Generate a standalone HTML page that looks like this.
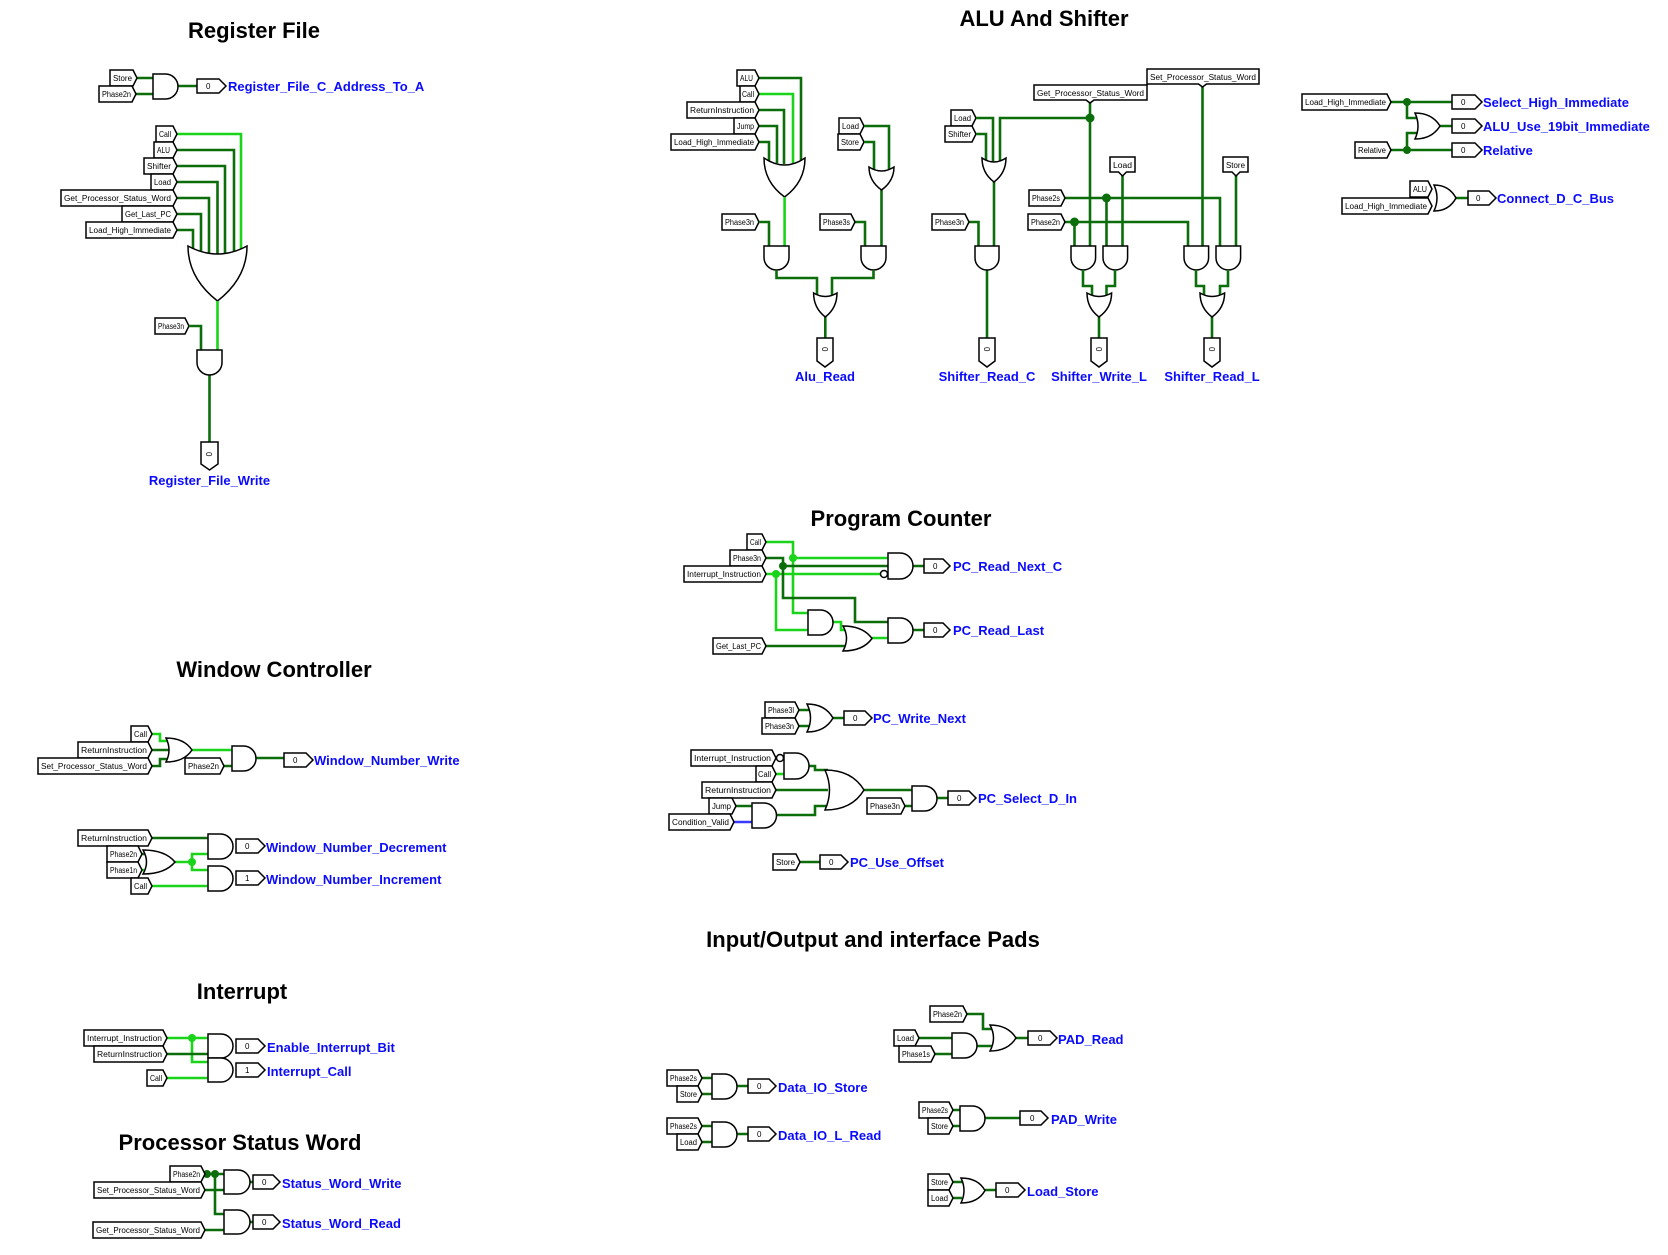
<!DOCTYPE html>
<html><head><meta charset="utf-8"><style>
html,body{margin:0;padding:0;background:#fff;}
svg{display:block}
.w{stroke:#0b6e0b;stroke-width:2.6;fill:none}
.b{stroke:#19d419;stroke-width:2.6;fill:none}
.u{stroke:#3a3aff;stroke-width:2.6;fill:none}
.g{fill:#fff;stroke:#000;stroke-width:1.5}
.tg{fill:#fff;stroke:#000;stroke-width:1.5}
.tt{font-family:"Liberation Sans",sans-serif;font-size:8px;fill:#000}
.pt{font-family:"Liberation Sans",sans-serif;font-size:8px;fill:#000}
.lb{font-family:"Liberation Sans",sans-serif;font-size:13px;font-weight:bold;fill:#0a0aff}
.ti{font-family:"Liberation Sans",sans-serif;font-size:22px;font-weight:bold;fill:#000}
.d{fill:#0b6e0b}.db{fill:#19d419}
</style></head><body>
<svg width="1668" height="1255" viewBox="0 0 1668 1255" xmlns="http://www.w3.org/2000/svg">

<!-- ================= REGISTER FILE ================= -->
<text x="254" y="38" class="ti" text-anchor="middle">Register File</text>
<path class="w" d="M137 78H153M136 94H153M178 86H197"/>
<polygon class="tg" points="110,70 133,70 137,78 133,86 110,86"/><text class="tt" x="113" y="81" textLength="19" lengthAdjust="spacingAndGlyphs">Store</text>
<polygon class="tg" points="99,86 132,86 136,94 132,102 99,102"/><text class="tt" x="102" y="97" textLength="29" lengthAdjust="spacingAndGlyphs">Phase2n</text>
<path class="g" d="M153 74h12.5a12.5 12.5 0 0 1 0 25h-12.5Z"/>
<polygon class="g" points="197,79 219,79 226,86 219,93 197,93"/><text class="pt" x="206" y="89">0</text>
<text class="lb" x="228" y="91">Register_File_C_Address_To_A</text>

<path class="b" d="M177 134H241V250"/>
<path class="w" d="M177 150H234V252M177 166H225V253M177 182H217.5V254M177 198H209V253M177 214H201V252M177 230H193V250"/>
<polygon class="tg" points="156,126 173,126 177,134 173,142 156,142"/><text class="tt" x="159" y="137" textLength="12" lengthAdjust="spacingAndGlyphs">Call</text>
<polygon class="tg" points="154,142 173,142 177,150 173,158 154,158"/><text class="tt" x="157" y="153" textLength="13" lengthAdjust="spacingAndGlyphs">ALU</text>
<polygon class="tg" points="144,158 173,158 177,166 173,174 144,174"/><text class="tt" x="147" y="169" textLength="24" lengthAdjust="spacingAndGlyphs">Shifter</text>
<polygon class="tg" points="151,174 173,174 177,182 173,190 151,190"/><text class="tt" x="154" y="185" textLength="17" lengthAdjust="spacingAndGlyphs">Load</text>
<polygon class="tg" points="61,190 173,190 177,198 173,206 61,206"/><text class="tt" x="64" y="201" textLength="107" lengthAdjust="spacingAndGlyphs">Get_Processor_Status_Word</text>
<polygon class="tg" points="122,206 173,206 177,214 173,222 122,222"/><text class="tt" x="125" y="217" textLength="46" lengthAdjust="spacingAndGlyphs">Get_Last_PC</text>
<polygon class="tg" points="86,222 173,222 177,230 173,238 86,238"/><text class="tt" x="89" y="233" textLength="82" lengthAdjust="spacingAndGlyphs">Load_High_Immediate</text>
<path class="g" d="M188 246Q217.5 262 247 246Q247 278 217.5 301Q188 278 188 246Z"/>
<path class="b" d="M217.5 301V350"/>
<polygon class="tg" points="155,318 185,318 189,326 185,334 155,334"/><text class="tt" x="158" y="329" textLength="26" lengthAdjust="spacingAndGlyphs">Phase3n</text>
<path class="w" d="M189 326H201V350M209.5 375V442"/>
<path class="g" d="M197 350h25v12.5a12.5 12.5 0 0 1 -25 0Z"/>
<polygon class="g" points="201,442 218,442 218,464 209.5,470 201,464"/><text class="pt" transform="translate(206,452) rotate(90)">0</text>
<text class="lb" x="209.5" y="485" text-anchor="middle">Register_File_Write</text>

<!-- ================= ALU AND SHIFTER ================= -->
<text x="1044" y="26" class="ti" text-anchor="middle">ALU And Shifter</text>
<path class="w" d="M759 78H801V162M759 110H784V164M759 126H777V163M759 142H769V162"/>
<path class="b" d="M759 94H793V163"/>
<polygon class="tg" points="737,70 755,70 759,78 755,86 737,86"/><text class="tt" x="740" y="81" textLength="13" lengthAdjust="spacingAndGlyphs">ALU</text>
<polygon class="tg" points="740,86 755,86 759,94 755,102 740,102"/><text class="tt" x="742" y="97" textLength="12" lengthAdjust="spacingAndGlyphs">Call</text>
<polygon class="tg" points="687,102 755,102 759,110 755,118 687,118"/><text class="tt" x="690" y="113" textLength="64" lengthAdjust="spacingAndGlyphs">ReturnInstruction</text>
<polygon class="tg" points="734,118 755,118 759,126 755,134 734,134"/><text class="tt" x="737" y="129" textLength="17" lengthAdjust="spacingAndGlyphs">Jump</text>
<polygon class="tg" points="671,134 755,134 759,142 755,150 671,150"/><text class="tt" x="674" y="145" textLength="80" lengthAdjust="spacingAndGlyphs">Load_High_Immediate</text>
<path class="g" d="M764 158Q784.6 172 805 158Q805 182 784.6 197Q764 182 764 158Z"/>
<path class="b" d="M784.6 197V246"/>
<polygon class="tg" points="722,214 755,214 759,222 755,230 722,230"/><text class="tt" x="725" y="225" textLength="29" lengthAdjust="spacingAndGlyphs">Phase3n</text>
<path class="w" d="M759 222H769V246"/>
<path class="g" d="M764 246h25v11.5a12.5 12.5 0 0 1 -25 0Z"/>
<polygon class="tg" points="839,118 860,118 864,126 860,134 839,134"/><text class="tt" x="842" y="129" textLength="17" lengthAdjust="spacingAndGlyphs">Load</text>
<polygon class="tg" points="838,134 860,134 864,142 860,150 838,150"/><text class="tt" x="841" y="145" textLength="18" lengthAdjust="spacingAndGlyphs">Store</text>
<path class="w" d="M864 126H889V170M864 142H874V170M881.5 190V246M855 222H865V246"/>
<path class="g" d="M869 167Q881.5 175 894 167Q894 181 881.5 190Q869 181 869 167Z"/>
<polygon class="tg" points="820,214 851,214 855,222 851,230 820,230"/><text class="tt" x="823" y="225" textLength="27" lengthAdjust="spacingAndGlyphs">Phase3s</text>
<path class="g" d="M861 246h25v11.5a12.5 12.5 0 0 1 -25 0Z"/>
<path class="w" d="M776.5 270V278H817V297M873.5 270V278H832V297M825.3 317V338"/>
<path class="g" d="M813.6 293Q825.3 300 837 293Q837 308 825.3 317Q813.6 308 813.6 293Z"/>
<polygon class="g" points="817,338 833,338 833,361 825,367 817,361"/><text class="pt" transform="translate(822,347) rotate(90)">0</text>
<text class="lb" x="825" y="381" text-anchor="middle">Alu_Read</text>

<polygon class="tg" points="951,110 972,110 976,118 972,126 951,126"/><text class="tt" x="954" y="121" textLength="17" lengthAdjust="spacingAndGlyphs">Load</text>
<polygon class="tg" points="945,126 972,126 976,134 972,142 945,142"/><text class="tt" x="948" y="137" textLength="23" lengthAdjust="spacingAndGlyphs">Shifter</text>
<path class="w" d="M976 118H993V164M976 134H986V163M1090 118H1000V163M994 182V246M969 222H978.5V246M987 270V338"/>
<path class="g" d="M982 158Q994 166 1006 158Q1006 173 994 182Q982 173 982 158Z"/>
<polygon class="tg" points="932,214 965,214 969,222 965,230 932,230"/><text class="tt" x="935" y="225" textLength="29" lengthAdjust="spacingAndGlyphs">Phase3n</text>
<path class="g" d="M975 246h24v12a12 12 0 0 1 -24 0Z"/>
<polygon class="g" points="979,338 995,338 995,361 987,367 979,361"/><text class="pt" transform="translate(984,347) rotate(90)">0</text>
<text class="lb" x="987" y="381" text-anchor="middle">Shifter_Read_C</text>

<path class="w" d="M1090 101V246M1202.5 86V246M1122.5 175V246M1236 175V246M1065 198H1220V246M1106.5 198V246M1065 222H1188V246M1074.5 222V246"/>
<polygon class="tg" points="1034,85 1147,85 1147,100 1094,100 1090,103 1086,100 1034,100"/><text class="tt" x="1037" y="96" textLength="107" lengthAdjust="spacingAndGlyphs">Get_Processor_Status_Word</text>
<polygon class="tg" points="1147,69 1259,69 1259,84 1206.5,84 1202.5,87 1198.5,84 1147,84"/><text class="tt" x="1150" y="80" textLength="106" lengthAdjust="spacingAndGlyphs">Set_Processor_Status_Word</text>
<polygon class="tg" points="1110,157 1135,157 1135,172 1126.5,172 1122.5,176 1118.5,172 1110,172"/><text class="tt" x="1113" y="168" textLength="19" lengthAdjust="spacingAndGlyphs">Load</text>
<polygon class="tg" points="1223,157 1248,157 1248,172 1240,172 1236,176 1232,172 1223,172"/><text class="tt" x="1226" y="168" textLength="19" lengthAdjust="spacingAndGlyphs">Store</text>
<polygon class="tg" points="1029,190 1061,190 1065,198 1061,206 1029,206"/><text class="tt" x="1032" y="201" textLength="28" lengthAdjust="spacingAndGlyphs">Phase2s</text>
<polygon class="tg" points="1028,214 1061,214 1065,222 1061,230 1028,230"/><text class="tt" x="1031" y="225" textLength="29" lengthAdjust="spacingAndGlyphs">Phase2n</text>
<circle class="d" cx="1090" cy="118" r="4.5"/><circle class="d" cx="1106.5" cy="198" r="4.5"/><circle class="d" cx="1074.5" cy="222" r="4.5"/>
<path class="g" d="M1071 246h24.6v11.7a12.3 12.3 0 0 1 -24.6 0Z"/>
<path class="g" d="M1103 246h24.6v11.7a12.3 12.3 0 0 1 -24.6 0Z"/>
<path class="g" d="M1184 246h24.6v11.7a12.3 12.3 0 0 1 -24.6 0Z"/>
<path class="g" d="M1216 246h24.6v11.7a12.3 12.3 0 0 1 -24.6 0Z"/>
<path class="w" d="M1083 270V286H1092V297M1115 270V286H1106.5V297M1099 317V338M1196 270V286H1204V297M1228 270V286H1220V297M1212 317V338"/>
<path class="g" d="M1087 293Q1099 300 1111.6 293Q1111.6 308 1099 317Q1087 308 1087 293Z"/>
<path class="g" d="M1200 293Q1212 300 1224.6 293Q1224.6 308 1212 317Q1200 308 1200 293Z"/>
<polygon class="g" points="1091,338 1107,338 1107,361 1099,367 1091,361"/><text class="pt" transform="translate(1096,347) rotate(90)">0</text>
<polygon class="g" points="1204,338 1220,338 1220,361 1212,367 1204,361"/><text class="pt" transform="translate(1209,347) rotate(90)">0</text>
<text class="lb" x="1099" y="381" text-anchor="middle">Shifter_Write_L</text>
<text class="lb" x="1212" y="381" text-anchor="middle">Shifter_Read_L</text>

<!-- right block -->
<path class="w" d="M1391 102H1452M1407 102V118H1417M1391 150H1452M1407 150V133H1417M1440 126H1452M1456 198H1468"/>
<circle class="d" cx="1407" cy="102" r="4"/><circle class="d" cx="1407" cy="150" r="4"/>
<polygon class="tg" points="1302,94 1387,94 1391,102 1387,110 1302,110"/><text class="tt" x="1305" y="105" textLength="81" lengthAdjust="spacingAndGlyphs">Load_High_Immediate</text>
<polygon class="tg" points="1355,142 1387,142 1391,150 1387,158 1355,158"/><text class="tt" x="1358" y="153" textLength="28" lengthAdjust="spacingAndGlyphs">Relative</text>
<path class="g" d="M1415 113Q1432 113 1440 126Q1432 139 1415 139Q1421 126 1415 113Z"/>
<polygon class="g" points="1452,95 1475,95 1482,102 1475,109 1452,109"/><text class="pt" x="1461" y="105">0</text>
<polygon class="g" points="1452,119 1475,119 1482,126 1475,133 1452,133"/><text class="pt" x="1461" y="129">0</text>
<polygon class="g" points="1452,143 1475,143 1482,150 1475,157 1452,157"/><text class="pt" x="1461" y="153">0</text>
<text class="lb" x="1483" y="107">Select_High_Immediate</text>
<text class="lb" x="1483" y="131">ALU_Use_19bit_Immediate</text>
<text class="lb" x="1483" y="155">Relative</text>
<polygon class="tg" points="1410,181 1428,181 1432,189 1428,197 1410,197"/><text class="tt" x="1413" y="192" textLength="14" lengthAdjust="spacingAndGlyphs">ALU</text>
<polygon class="tg" points="1342,198 1428,198 1432,206 1428,214 1342,214"/><text class="tt" x="1345" y="209" textLength="82" lengthAdjust="spacingAndGlyphs">Load_High_Immediate</text>
<path class="g" d="M1434 185Q1449 185 1456 198Q1449 211 1434 211Q1440 198 1434 185Z"/>
<polygon class="g" points="1468,191 1489,191 1496,198 1489,205 1468,205"/><text class="pt" x="1476" y="201">0</text>
<text class="lb" x="1497" y="203">Connect_D_C_Bus</text>

<!-- ================= PROGRAM COUNTER ================= -->
<text x="901" y="526" class="ti" text-anchor="middle">Program Counter</text>
<path class="b" d="M766 542H793V613H808M793 558H888M766 574H880M776 574V630H808M833 622H841V630H847M872 638H888"/>
<path class="w" d="M766 558H783V598H855V622H888M783 566H888M766 646H846M913 566H924M913 630H924"/>
<circle class="db" cx="793" cy="558" r="4"/><circle class="db" cx="776" cy="574" r="4"/><circle class="d" cx="783" cy="566" r="4"/>
<polygon class="tg" points="747,534 762,534 766,542 762,550 747,550"/><text class="tt" x="750" y="545" textLength="11" lengthAdjust="spacingAndGlyphs">Call</text>
<polygon class="tg" points="730,550 762,550 766,558 762,566 730,566"/><text class="tt" x="733" y="561" textLength="28" lengthAdjust="spacingAndGlyphs">Phase3n</text>
<polygon class="tg" points="684,566 762,566 766,574 762,582 684,582"/><text class="tt" x="687" y="577" textLength="74" lengthAdjust="spacingAndGlyphs">Interrupt_Instruction</text>
<path class="g" d="M888 553h12a13 13 0 0 1 0 26h-12Z"/><circle class="g" cx="884" cy="574" r="3.5"/>
<path class="g" d="M808 610h12.5a12.5 12.5 0 0 1 0 25h-12.5Z"/>
<polygon class="tg" points="713,638 762,638 766,646 762,654 713,654"/><text class="tt" x="716" y="649" textLength="45" lengthAdjust="spacingAndGlyphs">Get_Last_PC</text>
<path class="g" d="M843 626Q863 626 872 638.5Q863 651 843 651Q850 638.5 843 626Z"/>
<path class="g" d="M888 618h12.5a12.5 12.5 0 0 1 0 25h-12.5Z"/>
<polygon class="g" points="924,559 943,559 950,566 943,573 924,573"/><text class="pt" x="933" y="569">0</text>
<polygon class="g" points="924,623 943,623 950,630 943,637 924,637"/><text class="pt" x="933" y="633">0</text>
<text class="lb" x="953" y="571">PC_Read_Next_C</text>
<text class="lb" x="953" y="635">PC_Read_Last</text>

<path class="w" d="M799 710H809M799 726H809M833 718H844M809 766H815V770H828M776 790H828M736 806H752M776 815H815V806H828M864 790H912M905 806H912M937 798H948M800 862H820"/>
<path class="b" d="M776 774H784"/>
<path class="u" d="M734 822H752"/>
<polygon class="tg" points="765,702 795,702 799,710 795,718 765,718"/><text class="tt" x="768" y="713" textLength="26" lengthAdjust="spacingAndGlyphs">Phase3l</text>
<polygon class="tg" points="762,718 795,718 799,726 795,734 762,734"/><text class="tt" x="765" y="729" textLength="29" lengthAdjust="spacingAndGlyphs">Phase3n</text>
<path class="g" d="M807 704Q825 704 833 718Q825 732 807 732Q814 718 807 704Z"/>
<polygon class="g" points="844,711 865,711 872,718 865,725 844,725"/><text class="pt" x="853" y="721">0</text>
<text class="lb" x="873" y="723">PC_Write_Next</text>
<polygon class="tg" points="691,750 772,750 776,758 772,766 691,766"/><text class="tt" x="694" y="761" textLength="77" lengthAdjust="spacingAndGlyphs">Interrupt_Instruction</text>
<polygon class="tg" points="756,766 772,766 776,774 772,782 756,782"/><text class="tt" x="758" y="777" textLength="13" lengthAdjust="spacingAndGlyphs">Call</text>
<polygon class="tg" points="702,782 772,782 776,790 772,798 702,798"/><text class="tt" x="705" y="793" textLength="66" lengthAdjust="spacingAndGlyphs">ReturnInstruction</text>
<polygon class="tg" points="709,798 732,798 736,806 732,814 709,814"/><text class="tt" x="712" y="809" textLength="19" lengthAdjust="spacingAndGlyphs">Jump</text>
<polygon class="tg" points="669,814 730,814 734,822 730,830 669,830"/><text class="tt" x="672" y="825" textLength="57" lengthAdjust="spacingAndGlyphs">Condition_Valid</text>
<path class="g" d="M784 753h12a13 13 0 0 1 0 26h-12Z"/><circle class="g" cx="780" cy="758" r="3.5"/>
<path class="g" d="M752 803h12a12.5 12.5 0 0 1 0 25h-12Z"/>
<path class="g" d="M825 770Q852 770 864 790Q852 810 825 810Q834 790 825 770Z"/>
<polygon class="tg" points="867,798 901,798 905,806 901,814 867,814"/><text class="tt" x="870" y="809" textLength="30" lengthAdjust="spacingAndGlyphs">Phase3n</text>
<path class="g" d="M912 786h12.5a12.5 12.5 0 0 1 0 25h-12.5Z"/>
<polygon class="g" points="948,791 969,791 976,798 969,805 948,805"/><text class="pt" x="957" y="801">0</text>
<text class="lb" x="978" y="803">PC_Select_D_In</text>
<polygon class="tg" points="773,854 796,854 800,862 796,870 773,870"/><text class="tt" x="776" y="865" textLength="19" lengthAdjust="spacingAndGlyphs">Store</text>
<polygon class="g" points="820,855 841,855 848,862 841,869 820,869"/><text class="pt" x="829" y="865">0</text>
<text class="lb" x="850" y="867">PC_Use_Offset</text>

<!-- ================= WINDOW CONTROLLER ================= -->
<text x="274" y="677" class="ti" text-anchor="middle">Window Controller</text>
<path class="b" d="M152 734H160V741H169M192 750H232"/>
<path class="w" d="M152 750H169M152 766H160V759H169M224 766H232M256 758H284"/>
<polygon class="tg" points="131,726 148,726 152,734 148,742 131,742"/><text class="tt" x="134" y="737" textLength="13" lengthAdjust="spacingAndGlyphs">Call</text>
<polygon class="tg" points="78,742 148,742 152,750 148,758 78,758"/><text class="tt" x="81" y="753" textLength="66" lengthAdjust="spacingAndGlyphs">ReturnInstruction</text>
<polygon class="tg" points="38,758 148,758 152,766 148,774 38,774"/><text class="tt" x="41" y="769" textLength="106" lengthAdjust="spacingAndGlyphs">Set_Processor_Status_Word</text>
<path class="g" d="M166 738Q184 738 192 750Q184 762 166 762Q172 750 166 738Z"/>
<polygon class="tg" points="185,758 220,758 224,766 220,774 185,774"/><text class="tt" x="188" y="769" textLength="31" lengthAdjust="spacingAndGlyphs">Phase2n</text>
<path class="g" d="M232 746h11.5a12.5 12.5 0 0 1 0 25h-11.5Z"/>
<polygon class="g" points="284,753 306,753 313,760 306,767 284,767"/><text class="pt" x="293" y="763">0</text>
<text class="lb" x="314" y="765">Window_Number_Write</text>

<path class="w" d="M152 838H208M142 854H147"/>
<path class="b" d="M142 870H147M175 862H192M192 862V854H208M192 862V870H208M152 886H208"/>
<circle class="db" cx="192" cy="862" r="4"/>
<polygon class="tg" points="78,830 148,830 152,838 148,846 78,846"/><text class="tt" x="81" y="841" textLength="66" lengthAdjust="spacingAndGlyphs">ReturnInstruction</text>
<polygon class="tg" points="107,846 138,846 142,854 138,862 107,862"/><text class="tt" x="110" y="857" textLength="27" lengthAdjust="spacingAndGlyphs">Phase2n</text>
<polygon class="tg" points="107,862 138,862 142,870 138,878 107,878"/><text class="tt" x="110" y="873" textLength="27" lengthAdjust="spacingAndGlyphs">Phase1n</text>
<polygon class="tg" points="131,878 148,878 152,886 148,894 131,894"/><text class="tt" x="134" y="889" textLength="13" lengthAdjust="spacingAndGlyphs">Call</text>
<path class="g" d="M143 850Q165 850 175 862Q165 874 143 874Q150 862 143 850Z"/>
<path class="g" d="M208 834h12.5a12.5 12.5 0 0 1 0 25h-12.5Z"/>
<path class="g" d="M208 866h12.5a12.5 12.5 0 0 1 0 25h-12.5Z"/>
<polygon class="g" points="236,839 258,839 265,846 258,853 236,853"/><text class="pt" x="245" y="849">0</text>
<polygon class="g" points="236,871 258,871 265,878 258,885 236,885"/><text class="pt" x="245" y="881">1</text>
<text class="lb" x="266" y="852">Window_Number_Decrement</text>
<text class="lb" x="266" y="884">Window_Number_Increment</text>

<!-- ================= INTERRUPT ================= -->
<text x="242" y="999" class="ti" text-anchor="middle">Interrupt</text>
<path class="b" d="M167 1038H208M192 1038V1062H208M167 1078H208"/>
<path class="w" d="M167 1054H208"/>
<circle class="db" cx="192" cy="1038" r="4"/>
<polygon class="tg" points="84,1030 163,1030 167,1038 163,1046 84,1046"/><text class="tt" x="87" y="1041" textLength="75" lengthAdjust="spacingAndGlyphs">Interrupt_Instruction</text>
<polygon class="tg" points="94,1046 163,1046 167,1054 163,1062 94,1062"/><text class="tt" x="97" y="1057" textLength="65" lengthAdjust="spacingAndGlyphs">ReturnInstruction</text>
<polygon class="tg" points="147,1070 163,1070 167,1078 163,1086 147,1086"/><text class="tt" x="150" y="1081" textLength="12" lengthAdjust="spacingAndGlyphs">Call</text>
<path class="g" d="M208 1034h13a12 12 0 0 1 0 24h-13Z"/>
<path class="g" d="M208 1058h13a12 12 0 0 1 0 24h-13Z"/>
<polygon class="g" points="236,1039 258,1039 265,1046 258,1053 236,1053"/><text class="pt" x="245" y="1049">0</text>
<polygon class="g" points="236,1063 258,1063 265,1070 258,1077 236,1077"/><text class="pt" x="245" y="1073">1</text>
<text class="lb" x="267" y="1052">Enable_Interrupt_Bit</text>
<text class="lb" x="267" y="1076">Interrupt_Call</text>

<!-- ================= PSW ================= -->
<text x="240" y="1150" class="ti" text-anchor="middle">Processor Status Word</text>
<path class="w" d="M205 1174H224M215 1174V1214H224M205 1190H224M205 1230H224M250 1182H253M250 1222H253"/>
<circle class="d" cx="207" cy="1174" r="4"/><circle class="d" cx="215" cy="1174" r="4"/>
<polygon class="tg" points="170,1166 201,1166 205,1174 201,1182 170,1182"/><text class="tt" x="173" y="1177" textLength="27" lengthAdjust="spacingAndGlyphs">Phase2n</text>
<polygon class="tg" points="94,1182 201,1182 205,1190 201,1198 94,1198"/><text class="tt" x="97" y="1193" textLength="103" lengthAdjust="spacingAndGlyphs">Set_Processor_Status_Word</text>
<polygon class="tg" points="93,1222 201,1222 205,1230 201,1238 93,1238"/><text class="tt" x="96" y="1233" textLength="104" lengthAdjust="spacingAndGlyphs">Get_Processor_Status_Word</text>
<path class="g" d="M224 1170h14a12 12 0 0 1 0 24h-14Z"/>
<path class="g" d="M224 1210h14a12 12 0 0 1 0 24h-14Z"/>
<polygon class="g" points="253,1175 273,1175 280,1182 273,1189 253,1189"/><text class="pt" x="262" y="1185">0</text>
<polygon class="g" points="253,1215 273,1215 280,1222 273,1229 253,1229"/><text class="pt" x="262" y="1225">0</text>
<text class="lb" x="282" y="1188">Status_Word_Write</text>
<text class="lb" x="282" y="1228">Status_Word_Read</text>

<!-- ================= IO ================= -->
<text x="873" y="947" class="ti" text-anchor="middle">Input/Output and interface Pads</text>
<path class="w" d="M702 1078H712M702 1094H712M737 1086H748M702 1126H712M702 1142H712M737 1134H748"/>
<polygon class="tg" points="667,1070 698,1070 702,1078 698,1086 667,1086"/><text class="tt" x="670" y="1081" textLength="27" lengthAdjust="spacingAndGlyphs">Phase2s</text>
<polygon class="tg" points="677,1086 698,1086 702,1094 698,1102 677,1102"/><text class="tt" x="680" y="1097" textLength="17" lengthAdjust="spacingAndGlyphs">Store</text>
<polygon class="tg" points="667,1118 698,1118 702,1126 698,1134 667,1134"/><text class="tt" x="670" y="1129" textLength="27" lengthAdjust="spacingAndGlyphs">Phase2s</text>
<polygon class="tg" points="677,1134 698,1134 702,1142 698,1150 677,1150"/><text class="tt" x="680" y="1145" textLength="17" lengthAdjust="spacingAndGlyphs">Load</text>
<path class="g" d="M712 1074h12.5a12.5 12.5 0 0 1 0 25h-12.5Z"/>
<path class="g" d="M712 1122h12.5a12.5 12.5 0 0 1 0 25h-12.5Z"/>
<polygon class="g" points="748,1079 769,1079 776,1086 769,1093 748,1093"/><text class="pt" x="757" y="1089">0</text>
<polygon class="g" points="748,1127 769,1127 776,1134 769,1141 748,1141"/><text class="pt" x="757" y="1137">0</text>
<text class="lb" x="778" y="1092">Data_IO_Store</text>
<text class="lb" x="778" y="1140">Data_IO_L_Read</text>

<path class="w" d="M967 1014H983V1029H993M919 1038H952M935 1054H952M977 1046H993M1016 1038H1028M953 1110H960M953 1126H960M985 1118H1020M953 1182H962M953 1198H962M985 1190H996"/>
<polygon class="tg" points="930,1006 963,1006 967,1014 963,1022 930,1022"/><text class="tt" x="933" y="1017" textLength="29" lengthAdjust="spacingAndGlyphs">Phase2n</text>
<polygon class="tg" points="894,1030 915,1030 919,1038 915,1046 894,1046"/><text class="tt" x="897" y="1041" textLength="17" lengthAdjust="spacingAndGlyphs">Load</text>
<polygon class="tg" points="899,1046 931,1046 935,1054 931,1062 899,1062"/><text class="tt" x="902" y="1057" textLength="28" lengthAdjust="spacingAndGlyphs">Phase1s</text>
<path class="g" d="M952 1033h12.5a12.5 12.5 0 0 1 0 25h-12.5Z"/>
<path class="g" d="M990 1025Q1008 1025 1016 1038Q1008 1051 990 1051Q997 1038 990 1025Z"/>
<polygon class="g" points="1028,1031 1050,1031 1057,1038 1050,1045 1028,1045"/><text class="pt" x="1038" y="1041">0</text>
<text class="lb" x="1058" y="1044">PAD_Read</text>
<polygon class="tg" points="919,1102 949,1102 953,1110 949,1118 919,1118"/><text class="tt" x="922" y="1113" textLength="26" lengthAdjust="spacingAndGlyphs">Phase2s</text>
<polygon class="tg" points="928,1118 949,1118 953,1126 949,1134 928,1134"/><text class="tt" x="931" y="1129" textLength="17" lengthAdjust="spacingAndGlyphs">Store</text>
<path class="g" d="M960 1106h12.5a12.5 12.5 0 0 1 0 25h-12.5Z"/>
<polygon class="g" points="1020,1111 1041,1111 1048,1118 1041,1125 1020,1125"/><text class="pt" x="1030" y="1121">0</text>
<text class="lb" x="1051" y="1124">PAD_Write</text>
<polygon class="tg" points="928,1174 949,1174 953,1182 949,1190 928,1190"/><text class="tt" x="931" y="1185" textLength="17" lengthAdjust="spacingAndGlyphs">Store</text>
<polygon class="tg" points="928,1190 949,1190 953,1198 949,1206 928,1206"/><text class="tt" x="931" y="1201" textLength="17" lengthAdjust="spacingAndGlyphs">Load</text>
<path class="g" d="M961 1178Q978 1178 985 1190.5Q978 1203 961 1203Q967 1190.5 961 1178Z"/>
<polygon class="g" points="996,1183 1018,1183 1025,1190 1018,1197 996,1197"/><text class="pt" x="1005" y="1193">0</text>
<text class="lb" x="1027" y="1196">Load_Store</text>
</svg>
</body></html>
